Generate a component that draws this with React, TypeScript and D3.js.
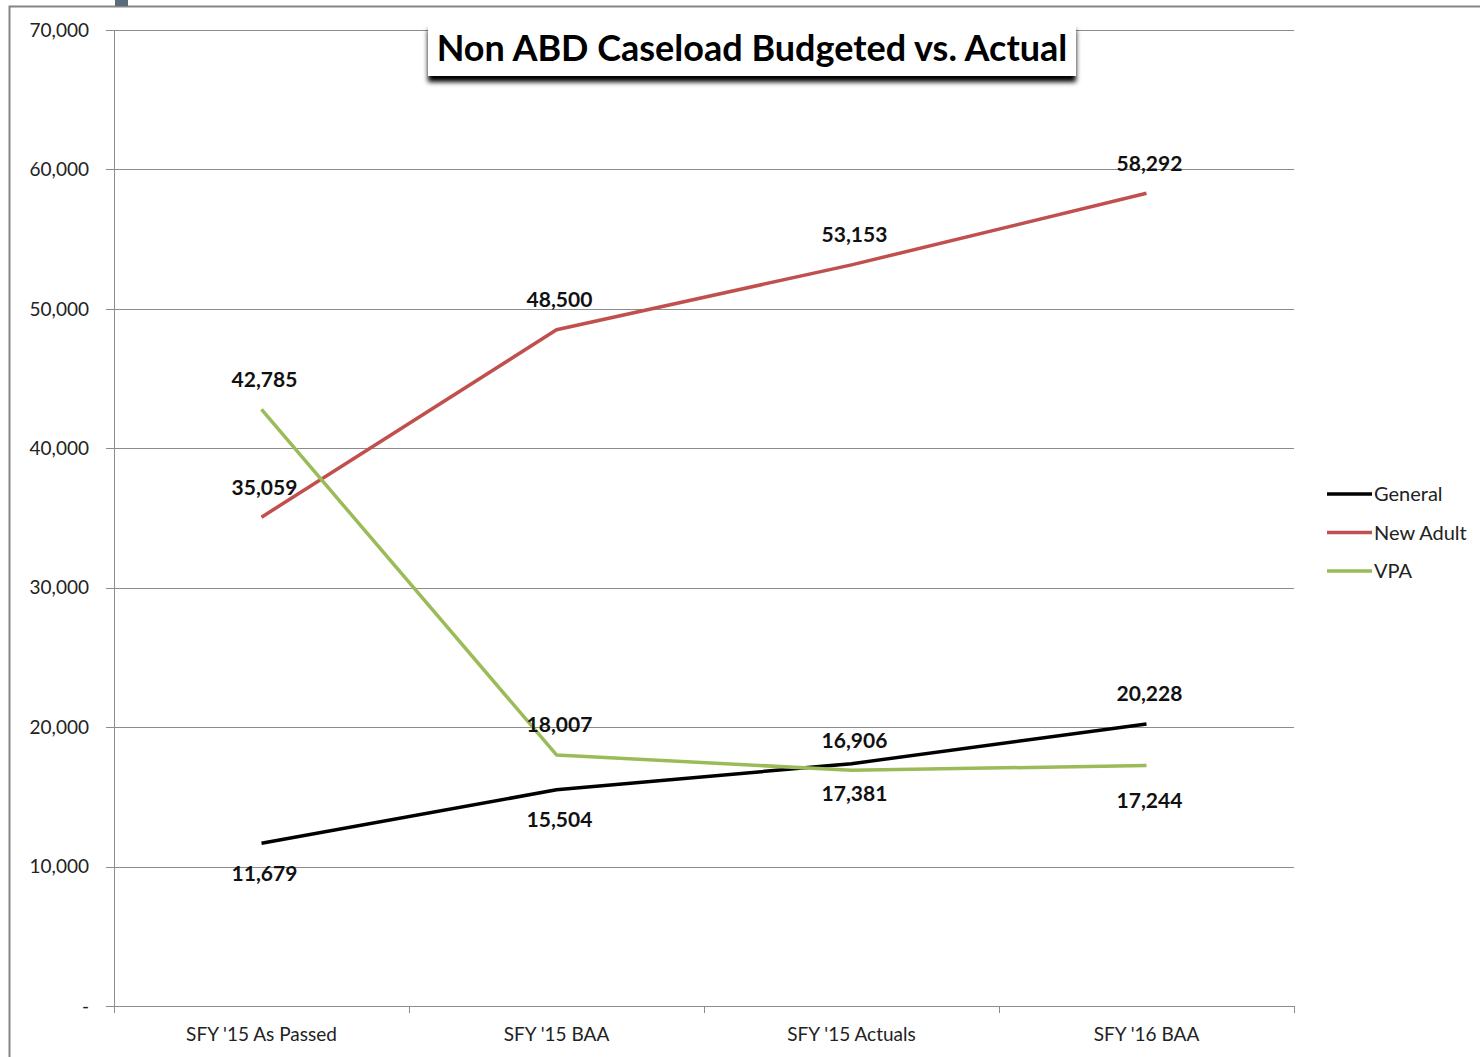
import React, { useEffect, useRef } from "react";
import * as d3 from "d3";

const categories = ["SFY '15 As Passed", "SFY '15 BAA", "SFY '15 Actuals", "SFY '16 BAA"];
const seriesNames = ["General", "New Adult", "VPA"];
const generalValues = [11679, 15504, 17381, 20228];
const newAdultValues = [35059, 48500, 53153, 58292];
const vpaValues = [42785, 18007, 16906, 17244];
const yTicks = [0, 10000, 20000, 30000, 40000, 50000, 60000, 70000];
// label placement: 1 = above, -1 = below
const generalPlacement = [-1, -1, -1, 1];
const newAdultPlacement = [1, 1, 1, 1];
const vpaPlacement = [1, 1, 1, -1.17];
const colors = ["#000000", "#C0504D", "#9BBB59"];

const W = 1480, H = 1057;
const FONT = "Lato, 'Open Sans', sans-serif";

export default function App() {
  const ref = useRef<SVGSVGElement>(null);
  useEffect(() => {
    const svg = d3.select(ref.current);
    svg.selectAll("*").remove();
    const left = 114, right = 1294, top = 30, bottom = 1006;
    const x = d3.scaleBand().domain(categories).range([left, right]);
    const y = d3.scaleLinear().domain([0, 70000]).range([bottom, top]);

    svg.append("rect").attr("width", W).attr("height", H).attr("fill", "#fff");
    // outer frame
    svg.append("path").attr("d", `M9.5,${H} V6.5 H${W}`).attr("fill", "none").attr("stroke", "#858585").attr("stroke-width", 2);
    svg.append("rect").attr("x", 115).attr("y", 0).attr("width", 13).attr("height", 6).attr("fill", "#5b6b7b");

    // gridlines
    svg.append("g").selectAll("line").data(yTicks).join("line")
      .attr("x1", left - 8).attr("x2", right)
      .attr("y1", d => Math.round(y(d)) + 0.5).attr("y2", d => Math.round(y(d)) + 0.5)
      .attr("stroke", "#8c8c8c").attr("stroke-width", 1);
    // y axis line
    svg.append("line").attr("x1", left + 0.5).attr("x2", left + 0.5).attr("y1", top).attr("y2", bottom + 7)
      .attr("stroke", "#8c8c8c");
    // x ticks
    const xt = categories.map(c => x(c)!).concat([right]);
    svg.append("g").selectAll("line").data(xt).join("line")
      .attr("x1", d => Math.round(d) + 0.5).attr("x2", d => Math.round(d) + 0.5)
      .attr("y1", bottom).attr("y2", bottom + 7).attr("stroke", "#8c8c8c");

    // y labels
    svg.append("g").selectAll("text").data(yTicks).join("text")
      .attr("x", 89).attr("y", d => y(d)).attr("dy", "0.35em").attr("text-anchor", "end")
      .attr("font-family", FONT).attr("font-size", 19).attr("fill", "#222")
      .text(d => d === 0 ? "-" : d3.format(",")(d));
    // x labels
    svg.append("g").selectAll("text").data(categories).join("text")
      .attr("x", d => x(d)! + x.bandwidth() / 2).attr("y", 1034).attr("dy", "0.35em").attr("text-anchor", "middle")
      .attr("font-family", FONT).attr("font-size", 19).attr("fill", "#222")
      .text(d => d);

    const series = [
      { name: seriesNames[0], values: generalValues, placement: generalPlacement, color: colors[0] },
      { name: seriesNames[1], values: newAdultValues, placement: newAdultPlacement, color: colors[1] },
      { name: seriesNames[2], values: vpaValues, placement: vpaPlacement, color: colors[2] },
    ];
    const line = d3.line<number>().x((_, i) => x(categories[i])! + x.bandwidth() / 2).y(d => y(d));
    series.forEach(s => {
      svg.append("path").attr("d", line(s.values)!).attr("fill", "none").attr("stroke", s.color)
        .attr("stroke-width", 3.5).attr("stroke-linejoin", "round");
    });
    series.forEach(s => {
      svg.append("g").selectAll("text").data(s.values).join("text")
        .attr("x", (_, i) => x(categories[i])! + x.bandwidth() / 2 + 3)
        .attr("y", (d, i) => y(d) - 30 * s.placement[i])
        .attr("dy", "0.35em").attr("text-anchor", "middle")
        .attr("font-family", FONT).attr("font-size", 21).attr("font-weight", "bold").attr("fill", "#111")
        .text(d => d3.format(",")(d));
    });

    // title
    const defs = svg.append("defs");
    const f = defs.append("filter").attr("id", "sh").attr("x", "-10%").attr("y", "-50%").attr("width", "120%").attr("height", "200%");
    f.append("feGaussianBlur").attr("in", "SourceAlpha").attr("stdDeviation", 2.5);
    f.append("feOffset").attr("dx", 0).attr("dy", 6).attr("result", "b");
    const m = f.append("feMerge");
    m.append("feMergeNode").attr("in", "b");
    m.append("feMergeNode").attr("in", "SourceGraphic");
    svg.append("rect").attr("x", 428).attr("y", 24).attr("width", 648).attr("height", 52).attr("fill", "#fff").attr("filter", "url(#sh)");
    svg.append("text").attr("x", 752).attr("y", 48).attr("dy", "0.35em").attr("text-anchor", "middle")
      .attr("font-family", FONT).attr("font-size", 36).attr("font-weight", "bold").attr("fill", "#000")
      .text("Non ABD Caseload Budgeted vs. Actual");

    // legend
    const lg = svg.append("g");
    series.forEach((s, i) => {
      const ly = 494 + i * 38.5;
      lg.append("line").attr("x1", 1327).attr("x2", 1372).attr("y1", ly).attr("y2", ly).attr("stroke", s.color).attr("stroke-width", 3.5);
      lg.append("text").attr("x", 1374).attr("y", ly).attr("dy", "0.35em").attr("font-family", FONT).attr("font-size", 20).attr("fill", "#222").text(s.name);
    });
  }, []);
  return <svg ref={ref} width={W} height={H} style={{ position: "absolute", left: 0, top: 0 }} />;
}
